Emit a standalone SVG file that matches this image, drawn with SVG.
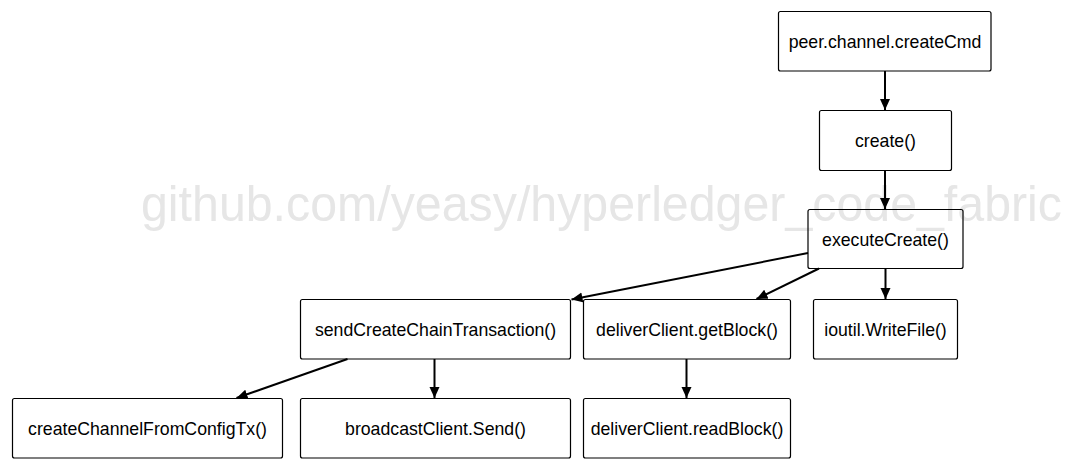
<svg xmlns="http://www.w3.org/2000/svg" width="1086" height="469" viewBox="0 0 1086 469">
<style>
.box{fill:none;stroke:#000;stroke-width:1.2}
.lbl{font-family:"Liberation Sans",Arial,sans-serif;font-size:17.7px;fill:#000;text-anchor:middle}
.wm{font-family:"Liberation Sans",Arial,sans-serif;font-size:50px;fill:#e6e6e6}
.edge{fill:none;stroke:#000;stroke-width:2;marker-end:url(#ah)}
</style>
<defs>
<marker id="ah" markerUnits="userSpaceOnUse" markerWidth="12" markerHeight="12" viewBox="0 0 12 12" refX="11" refY="6" orient="auto">
<path d="M0,1 L11,6 L0,11 Z" fill="#000"/>
</marker>
</defs>
<rect width="1086" height="469" fill="#fff"/>
<text class="wm" x="141" y="220.5" textLength="921" lengthAdjust="spacingAndGlyphs">github.com/yeasy/hyperledger_code_fabric</text>
<g id="connectors">
<line class="edge" x1="885" y1="71" x2="885" y2="110"/>
<line class="edge" x1="885" y1="170.5" x2="885" y2="209"/>
<line class="edge" x1="808" y1="253" x2="571.5" y2="299.5"/>
<line class="edge" x1="819" y1="268.5" x2="756.5" y2="299"/>
<line class="edge" x1="885.5" y1="268.5" x2="885.5" y2="299"/>
<line class="edge" x1="347.5" y1="359" x2="236.5" y2="398"/>
<line class="edge" x1="434.5" y1="359" x2="434.5" y2="398"/>
<line class="edge" x1="686.5" y1="359" x2="686.5" y2="398"/>
</g>
<g id="n-createCmd"><rect class="box" x="778.5" y="11.5" width="212.5" height="59.5" rx="2"/><text class="lbl" x="885" y="48">peer.channel.createCmd</text></g>
<g id="n-create"><rect class="box" x="819.5" y="110.5" width="132" height="60" rx="2"/><text class="lbl" x="885.5" y="147">create()</text></g>
<g id="n-executeCreate"><rect class="box" x="808" y="209.5" width="155" height="59" rx="2"/><text class="lbl" x="885.5" y="245.5">executeCreate()</text></g>
<g id="n-sendCreate"><rect class="box" x="300.5" y="299.5" width="270" height="59.5" rx="2"/><text class="lbl" x="435.5" y="335.5">sendCreateChainTransaction()</text></g>
<g id="n-getBlock"><rect class="box" x="583.5" y="299.5" width="207" height="59.5" rx="2"/><text class="lbl" x="687" y="335.5">deliverClient.getBlock()</text></g>
<g id="n-writeFile"><rect class="box" x="813.5" y="299.5" width="144" height="59.5" rx="2"/><text class="lbl" x="885.5" y="335.5">ioutil.WriteFile()</text></g>
<g id="n-createChannel"><rect class="box" x="12.5" y="398.5" width="270" height="59.5" rx="2"/><text class="lbl" x="147.5" y="434.5">createChannelFromConfigTx()</text></g>
<g id="n-broadcast"><rect class="box" x="300.5" y="398.5" width="270" height="59.5" rx="2"/><text class="lbl" x="435.5" y="434.5">broadcastClient.Send()</text></g>
<g id="n-readBlock"><rect class="box" x="583.5" y="398.5" width="207" height="59.5" rx="2"/><text class="lbl" x="687" y="434.5">deliverClient.readBlock()</text></g>
</svg>
